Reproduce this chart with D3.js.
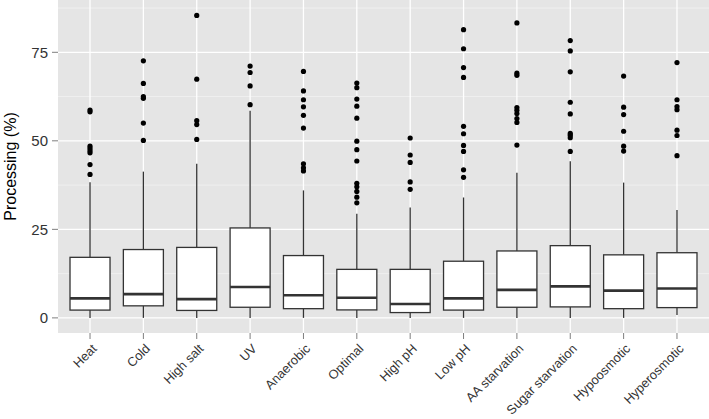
<!DOCTYPE html>
<html><head><meta charset="utf-8">
<script src="https://cdn.jsdelivr.net/npm/d3@7"></script>
<style>body{margin:0;background:#fff;}svg{display:block;}</style>
</head><body>
<script>
const categories = ["Heat","Cold","High salt","UV","Anaerobic","Optimal","High pH","Low pH","AA starvation","Sugar starvation","Hypoosmotic","Hyperosmotic"];
const whiskerLow  = [0,0,0,0,0,0,0,0,0,0,0,0.8];
const q1          = [2.2,3.4,2.1,3.0,2.6,2.25,1.5,2.2,3.0,3.1,2.6,2.9];
const median      = [5.5,6.7,5.3,8.7,6.4,5.7,3.9,5.5,7.9,8.9,7.7,8.3];
const q3          = [17.1,19.3,19.9,25.4,17.6,13.7,13.7,16.0,18.9,20.4,17.8,18.4];
const whiskerHigh = [38.3,41.3,43.5,58.5,36.0,29.4,31.2,34.0,41.0,44.2,38.2,30.5];
const outliers = [
  [58.7,58.2,48.5,47.8,47.2,46.6,43.3,40.5],
  [72.6,66.2,62.5,62.0,55.0,50.1],
  [85.4,67.4,55.7,54.6,50.4],
  [71.1,69.3,65.5,60.2],
  [69.6,64.1,61.6,59.6,57.2,53.6,43.5,42.4,41.5],
  [66.3,65.0,61.8,59.8,56.4,49.9,47.5,44.3,38.0,37.0,35.7,34.1,32.5],
  [50.8,46.0,43.9,38.4,36.3],
  [81.4,76.0,70.7,67.9,54.1,52.0,48.7,47.0,41.8,39.7],
  [83.3,69.1,68.5,59.4,58.6,57.7,56.3,55.2,48.8],
  [78.3,75.4,69.5,60.9,57.6,52.1,51.6,50.9,47.0],
  [68.3,59.5,57.4,52.7,48.5,47.1],
  [72.1,61.6,59.7,58.8,53.0,51.5,45.8]
];
const yTicks = [0,25,50,75];
const yMinor = [12.5,37.5,62.5,87.5];
const yTitle = "Processing (%)";

const W=709,H=419;
const m={left:58,right:0,top:0,bottom:86};
const svg=d3.select("body").append("svg").attr("width",W).attr("height",H);
const pw=W-m.left-m.right, ph=H-m.top-m.bottom;
const n=categories.length;
// ggplot discrete expansion: 0.6 units on each side
const x=d3.scalePoint().domain(categories).range([m.left+pw*0.6/(n+0.2), m.left+pw*(n-0.4)/(n+0.2)]);
const step=x.step();
const y=d3.scaleLinear().domain([-4.27,89.77]).range([m.top+ph,m.top]);
const font="Liberation Sans, Arial, sans-serif";

svg.append("rect").attr("x",m.left).attr("y",m.top).attr("width",pw).attr("height",ph).attr("fill","#E5E5E5");
const g=svg.append("g");
yMinor.forEach(v=>g.append("line").attr("x1",m.left).attr("x2",m.left+pw).attr("y1",y(v)).attr("y2",y(v)).attr("stroke","#F2F2F2").attr("stroke-width",0.8));
yTicks.forEach(v=>g.append("line").attr("x1",m.left).attr("x2",m.left+pw).attr("y1",y(v)).attr("y2",y(v)).attr("stroke","#fff").attr("stroke-width",1.3));
categories.forEach(c=>g.append("line").attr("x1",x(c)).attr("x2",x(c)).attr("y1",m.top).attr("y2",m.top+ph).attr("stroke","#fff").attr("stroke-width",1.3));

// y axis
yTicks.forEach(v=>{
  svg.append("line").attr("x1",m.left-6).attr("x2",m.left).attr("y1",y(v)).attr("y2",y(v)).attr("stroke","#7f7f7f").attr("stroke-width",1);
  svg.append("text").attr("x",m.left-10).attr("y",y(v)).attr("dy","0.36em").attr("text-anchor","end")
    .attr("font-family",font).attr("font-size",15).attr("fill","#333").text(v);
});
svg.append("text").attr("transform",`translate(16,${m.top+ph/2}) rotate(-90)`).attr("text-anchor","middle")
  .attr("font-family",font).attr("font-size",16).attr("fill","#000").text(yTitle);

// x axis
categories.forEach(c=>{
  svg.append("line").attr("x1",x(c)).attr("x2",x(c)).attr("y1",m.top+ph).attr("y2",m.top+ph+6).attr("stroke","#7f7f7f").attr("stroke-width",1);
  svg.append("text").attr("transform",`translate(${x(c)+7.5},${m.top+ph+16.5}) rotate(-45)`).attr("text-anchor","end")
    .attr("font-family",font).attr("font-size",12.8).attr("fill","#333").text(c);
});

// boxes
const bw=step*0.75;
const col="#333";
categories.forEach((c,i)=>{
  const X=x(c);
  g.append("line").attr("x1",X).attr("x2",X).attr("y1",y(q3[i])).attr("y2",y(whiskerHigh[i])).attr("stroke",col).attr("stroke-width",1.3);
  g.append("line").attr("x1",X).attr("x2",X).attr("y1",y(q1[i])).attr("y2",y(whiskerLow[i])).attr("stroke",col).attr("stroke-width",1.3);
  g.append("rect").attr("x",X-bw/2).attr("y",y(q3[i])).attr("width",bw).attr("height",y(q1[i])-y(q3[i]))
    .attr("fill","#fff").attr("stroke",col).attr("stroke-width",1.3);
  g.append("line").attr("x1",X-bw/2).attr("x2",X+bw/2).attr("y1",y(median[i])).attr("y2",y(median[i])).attr("stroke",col).attr("stroke-width",2.6);
  outliers[i].forEach(v=>g.append("circle").attr("cx",X).attr("cy",y(v)).attr("r",2.6).attr("fill","#000"));
});
</script>
</body></html>
